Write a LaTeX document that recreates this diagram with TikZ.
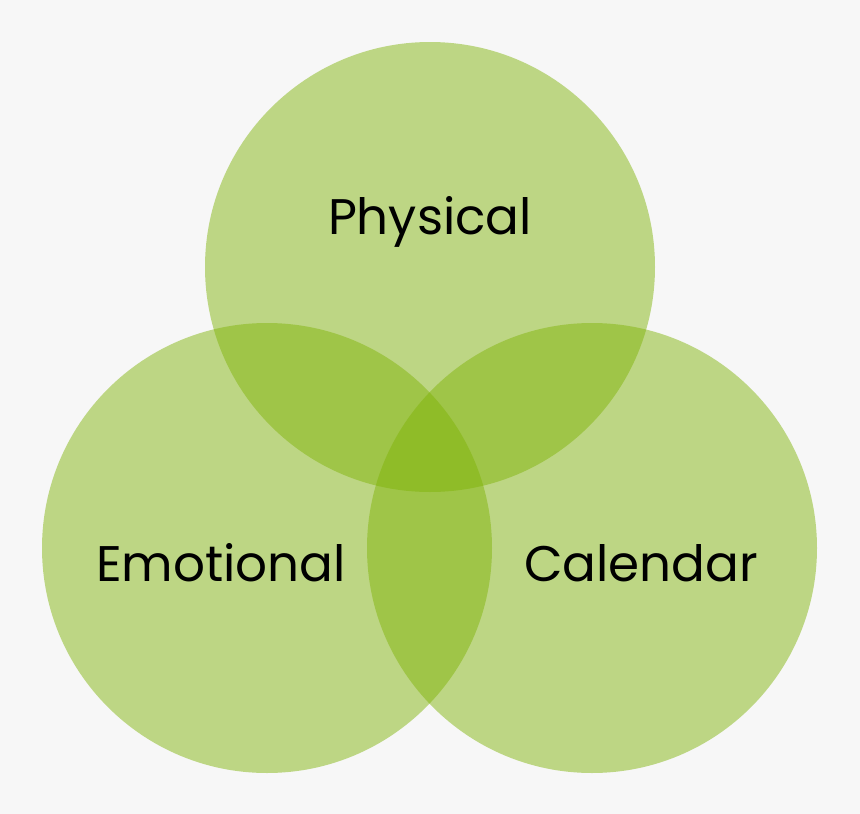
\documentclass[tikz,border=0pt]{standalone}
\usepackage{fontspec}
\setmainfont{Poppins}
\definecolor{bg}{RGB}{247,247,247}
\definecolor{vg}{RGB}{127,179,7}
\begin{document}
\begin{tikzpicture}[x=1pt,y=-1pt,
  circ/.style={circle,fill=vg,fill opacity=0.48,minimum size=450pt,inner sep=0pt},
  lbl/.style={font=\fontsize{50}{60}\selectfont,text=black}]
\fill[bg] (0,0) rectangle (860,814);
\useasboundingbox (0,0) rectangle (860,814);
\node[circ] (p) at (430,267) {};
\node[circ] (e) at (267,548) {};
\node[circ] (c) at (592,548) {};
\node[lbl] (pl) at (430,222) {Physical};
\node[lbl] (el) at (221,563) {Emotional};
\node[lbl] (cl) at (641,563) {Calendar};
\end{tikzpicture}
\end{document}
